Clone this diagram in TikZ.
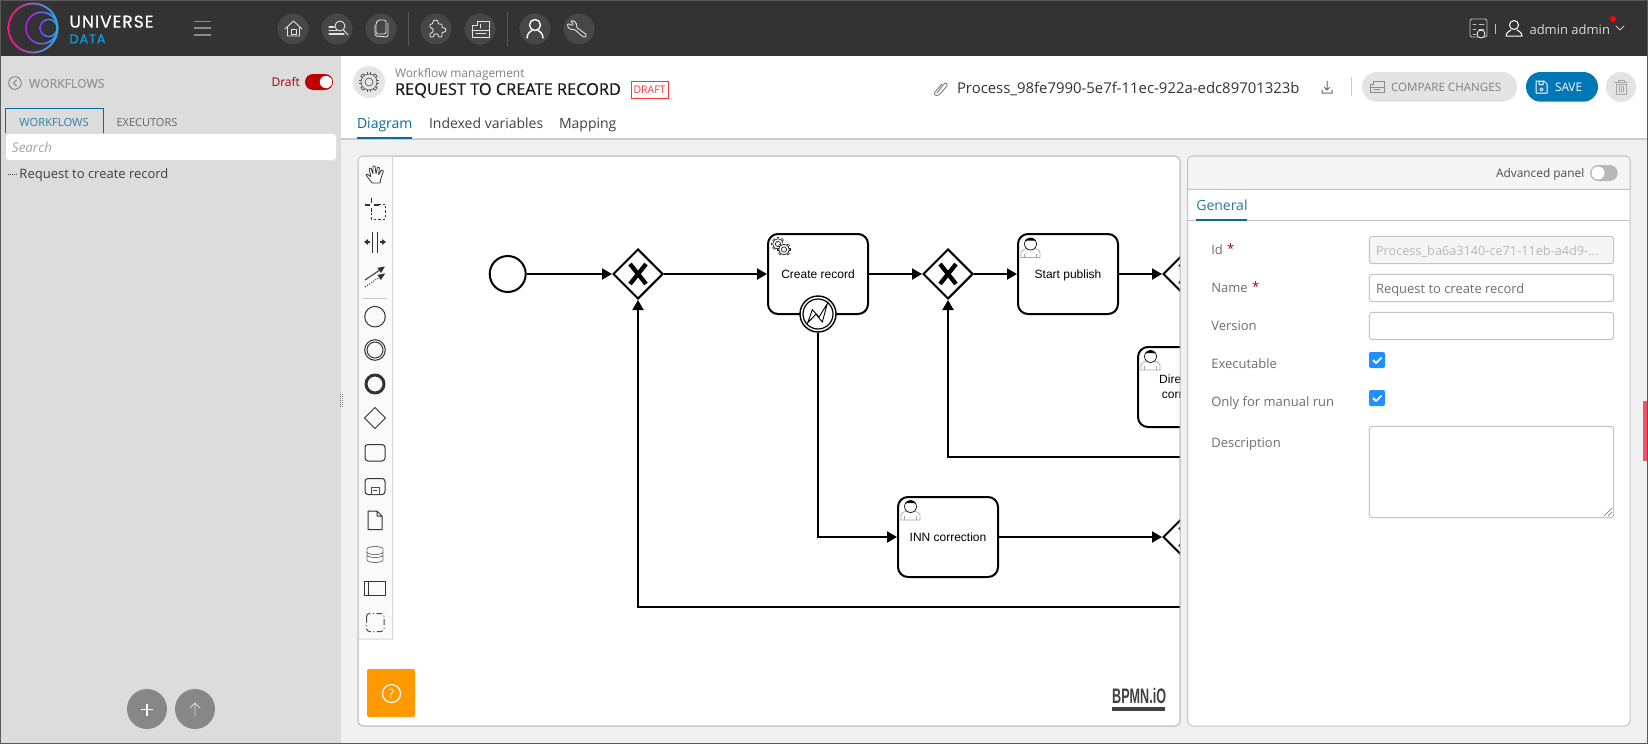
\documentclass[tikz,border=0pt]{standalone}
\usepackage{fontspec}
\usepackage{graphicx}
\setmainfont{Open Sans}
\newfontfamily\arialf{Liberation Sans}
\newfontfamily\logof[LetterSpace=6,FakeBold=0.5]{Poppins}
\newfontfamily\semif[FakeBold=0.35]{Open Sans}
\usetikzlibrary{arrows.meta,shapes.geometric,calc}
\newcommand\fz[1]{\fontsize{#1}{#1}\selectfont}
\definecolor{barbg}{HTML}{333333}
\definecolor{sidebg}{HTML}{DCDCDC}
\definecolor{mainbg}{HTML}{F1F1F1}
\definecolor{rule}{HTML}{C4C4C4}
\definecolor{blueui}{HTML}{0A6A9A}
\definecolor{btnbg}{HTML}{E3E3E3}
\definecolor{txtg}{HTML}{6E6E6E}
\definecolor{databl}{HTML}{0E9CD8}
\definecolor{savebl}{HTML}{0277B6}
\definecolor{checkbl}{HTML}{1E90FF}
\definecolor{orangeh}{HTML}{FF9900}
\definecolor{pinkb}{HTML}{EE5566}
\definecolor{roundb}{HTML}{474747}
\definecolor{icol}{HTML}{E2E2E2}
\colorlet{gearbg}{white}
\tikzset{
  x=1pt,y=-1pt,
  txt/.style 2 args={anchor=mid west,inner sep=0pt,outer sep=0pt,text=#1,font=\fz{#2},yshift={-0.17*#2*1pt}},
  ctxt/.style 2 args={anchor=mid,inner sep=0pt,outer sep=0pt,text=#1,font=\fz{#2},yshift={-0.17*#2*1pt}},
  roundbtn/.style={circle,minimum size=32pt,inner sep=0pt,fill=#1,draw=#1!70!black,line width=.8pt},
  flow/.style={line width=2pt,-{Triangle[length=10pt,width=11pt]}},
  evt/.style={circle,draw=black,fill=white,line width=2pt,minimum size=36pt,inner sep=0pt},
  gate/.style={diamond,aspect=1,draw=black,fill=white,line width=2pt,minimum size=50pt,inner sep=0pt},
  task/.style={draw=black,fill=white,line width=2pt,rounded corners=10pt,minimum width=100pt,minimum height=80pt,inner sep=0pt,font=\arialf\fz{12},text=black,text height=10pt,text depth=2pt},
  ico/.style={draw=#1,line width=.9pt,line join=round,line cap=round},
  pal/.style={draw=#1,line width=1pt,line join=round},
  field/.style={draw=rule,line width=1pt,rounded corners=3pt,fill=#1},
  usertask/.pic={
    \draw[fill=white,draw=gray!70,line width=.7pt] (0,20) -- (0,15) .. controls (0,12.5) and (3,12) .. (5.5,11) -- (13.5,11) .. controls (16,12) and (19,12.5) .. (19,15) -- (19,20) -- cycle;
    \draw[draw=gray!70,line width=.7pt] (3.5,16) -- (3.5,20) (15.5,16) -- (15.5,20);
    \draw[fill=white,draw=black,line width=.7pt] (9.5,6.5) circle (6pt);
    \fill[black] (4.3,3.5) arc[start angle=150,end angle=30,radius=6pt] .. controls (12,2.8) and (7,2.8) .. cycle;
  },
  gearicon/.pic={
    \foreach \a in {0,45,...,315}{\draw[line width={#1*0.5pt}] (\a:{#1*0.9}) -- (\a:{#1*1.3});}
    \foreach \a in {0,45,...,315}{\draw[line width={#1*0.25pt},color=gearbg] (\a:{#1*0.9}) -- (\a:{#1*1.2});}
    \draw[fill=gearbg,line width=.7pt] (0,0) circle ({#1*1pt});
    \draw[line width=.7pt] (0,0) circle ({#1*.5pt});
  },
}
\begin{document}
\begin{tikzpicture}
\useasboundingbox (0,0) rectangle (1648,744);
% backgrounds
\fill[mainbg] (0,0) rectangle (1648,744);
\fill[white] (341,56) rectangle (1648,138);
\fill[rule!85!white] (341,138) rectangle (1648,140);
\fill[sidebg] (0,56) rectangle (341,744);
\fill[barbg] (0,0) rectangle (1648,56);
% logo
\shade[left color={rgb,255:red,240;green,16;blue,125},middle color={rgb,255:red,160;green,32;blue,240},right color={rgb,255:red,32;green,176;blue,240},even odd rule] (33,28) circle (25.5pt) circle (23.5pt);
\shade[left color={rgb,255:red,176;green,24;blue,224},middle color={rgb,255:red,130;green,50;blue,240},right color={rgb,255:red,32;green,176;blue,240},even odd rule] (41.7,28) circle (16.6pt) circle (14.9pt);
\shade[left color={rgb,255:red,120;green,60;blue,240},right color={rgb,255:red,32;green,176;blue,240},even odd rule] (48.7,28) circle (9.4pt) circle (7.8pt);
\node[txt={white}{17}] (logo1) at (69.5,22) {\logof UNIVERSE};
\node[txt={databl}{13}] (logo2) at (69.5,38.5) {\logof DATA};
\draw[gray!90,line width=1.6pt] (194,21.3) -- (211,21.3) (194,28) -- (211,28) (194,34.7) -- (211,34.7);
% top round buttons
\foreach \n/\x in {b1/293,b2/337,b3/381,b4/436,b5/480,b6/535,b7/579}{\node[roundbtn={roundb}] (\n) at (\x,29) {};}
\draw[black!65!white,line width=1pt] (408.5,12) -- (408.5,46) (507.6,12) -- (507.6,46);
% home
\draw[ico=icol] (285,29) -- (293.5,21) -- (302,29) (287.5,27) -- (287.5,36) -- (299.5,36) -- (299.5,27);
\draw[ico=icol,line width=.8pt] (291,29.5) rectangle (296,34);
% search
\draw[ico=icol] (340,26) circle (5pt) (343.5,30) -- (348,35);
\draw[ico=icol,line width=1.2pt] (329,27) -- (334,27) (329,30.5) -- (337,30.5) (329,34) -- (344,34);
% docs
\draw[ico=icol,rounded corners=1.5pt] (378,20) -- (386,20) -- (386,34) -- (376,34) -- (376,23) -- cycle;
\draw[ico=icol,rounded corners=1.5pt] (375,25) -- (375,36) -- (388,37) -- (388,23);
% puzzle
\draw[ico=icol,rounded corners=1pt] (430,24) -- (433,24) .. controls (432,19) and (439,19) .. (438,24) -- (442,24) -- (442,28) .. controls (447,27) and (447,33) .. (442,32) -- (442,37) -- (438,37) .. controls (439,33) and (433,33) .. (434,37) -- (430,37) -- (430,33) .. controls (434,33) and (434,28) .. (430,28) -- cycle;
% layout
\draw[ico=icol] (472,25) -- (477,25) -- (477,21) -- (489,21) -- (489,37) -- (472,37) -- cycle (472,30) -- (489,30);
\draw[ico=icol,line width=.8pt] (480,24) -- (480,28) (476,33) -- (486,33);
% user
\draw[ico=white,line width=1.4pt] (535,25) circle (5.5pt) (527,38) .. controls (527,33) and (531,31) .. (532,30.5) (543,38) .. controls (543,33) and (539,31) .. (538,30.5);
% wrench
\draw[ico=icol,rounded corners=1.5pt] (570,21) .. controls (575,20) and (577,24) .. (576,27) -- (587,35) -- (584.5,38) -- (574,29) .. controls (570,30) and (567,27) .. (568,23) -- (572,26) -- (574,24) -- cycle;
% right top
\draw[ico=white!75!black,rounded corners=1.5pt] (1470,19) rectangle (1487,37);
\draw[ico=white!75!black,line width=.8pt] (1473,24) -- (1476,24) (1473,29) -- (1476,29) (1473,34) -- (1476,34) (1479,24) -- (1484,24) (1479,29) -- (1484,29);
\draw[ico=white,fill=barbg,line width=.8pt] (1481,34) circle (4pt);
\draw[white!75!black,line width=.8pt] (1495,24) -- (1495,34);
\draw[ico=white,line width=1pt] (1514,25) circle (4.5pt) (1506,36) .. controls (1506,32) and (1510,31) .. (1511,30) (1522,36) .. controls (1522,32) and (1518,31) .. (1517,30) (1506,36) -- (1522,36);
\node[txt={white!85!black}{13}] (adm) at (1529.5,30) {admin admin};
\fill[red] (1613,19) circle (3pt);
\draw[ico=white!80!black,line width=.8pt] (1616,26) -- (1620,30) -- (1624,26);
% sidebar
\draw[ico=black!50!white,line width=.9pt] (15,83) circle (6.3pt) (16.5,80) -- (13.5,83) -- (16.5,86);
\node[txt={black!42!white}{12.2}] (wf) at (29,83) {\semif WORKFLOWS};
\node[txt={red!65!black}{12}] (dr) at (271.5,82) {Draft};
\fill[red!75!black,rounded corners=8pt] (305,74) rectangle (333,90);
\fill[white] (326,82) circle (6.2pt);
\draw[blueui,line width=1pt] (5.5,133) -- (5.5,108) -- (103,108) -- (103,133);
\node[ctxt={blueui!85!white}{11.2}] (t1) at (54,122) {WORKFLOWS};
\node[ctxt={black!60!white}{11}] (t2) at (147,122) {EXECUTORS};
\fill[white,rounded corners=3pt] (6,134) rectangle (336,160);
\node[txt={black!35!white}{13.4}] (srch) at (12,147.5) {\itshape Search};
\draw[black!70!white,line width=1pt,dash pattern=on 1pt off 1pt] (8,174.5) -- (17,174.5);
\node[txt={black!75!white}{13}] (rq) at (19.5,174) {Request to create record};
\node[circle,minimum size=40pt,inner sep=0pt,fill=black!47!white] (plus) at (147,709) {};
\node[circle,minimum size=40pt,inner sep=0pt,fill=black!47!white] (up) at (195,709) {};
\draw[white,line width=1.3pt] (141,709.5) -- (153,709.5) (147,703.5) -- (147,715.5);
\draw[white!85!black,line width=.9pt,line join=round] (195,716) -- (195,703) (190,708) -- (195,703) -- (200,708);
\draw[black!50!white,line width=1pt,dash pattern=on 1pt off 1pt] (340.5,394) -- (340.5,407);
\draw[black!50!white,line width=1pt,dash pattern=on 1pt off 1pt] (342.5,394) -- (342.5,407);
% header
\node[circle,minimum size=32pt,inner sep=0pt,fill=black!10!white] (gearb) at (369,82) {};
\begin{scope}\colorlet{gearbg}{black!10!white}
\pic[color=black!65!white] at (369,82) {gearicon=8};
\end{scope}
\node[txt={black!50!white}{11.9}] (wm) at (395,72.5) {Workflow management};
\node[txt={black!90!white}{16.35}] (title) at (395,89.5) {\semif REQUEST TO CREATE RECORD};
\node[draw=red!80!white,line width=.8pt,minimum width=37pt,minimum height=17pt,inner sep=0pt,text=red!80!white,font=\fz{10.5}] (dbx) at (649.5,89.5) {DRAFT};
\node[txt={blueui}{14}] (d1) at (357,123) {Diagram};
\fill[blueui] (357,136.6) rectangle (412,138.6);
\node[txt={black!75!white}{14}] (d2) at (429,123) {Indexed variables};
\node[txt={black!75!white}{14}] (d3) at (559,123) {Mapping};
\draw[ico=black!50!white,line width=.9pt,rounded corners=1.5pt] (937,93) -- (944,84) .. controls (946,82) and (948,85) .. (946,87) -- (940,94) .. controls (936,97) and (933,94) .. (936,91) -- (942,84);
\node[txt={black!80!white}{14.9}] (proc) at (957,88) {Process\_98fe7990-5e7f-11ec-922a-edc89701323b};
\draw[ico=black!60!white,line width=1pt] (1327,81) -- (1327,90) (1324.5,87.5) -- (1327,90) -- (1329.5,87.5) (1322,90) -- (1322,93) -- (1332,93) -- (1332,90);
\draw[black!20!white,line width=1pt] (1351,77) -- (1351,96);
\fill[btnbg,rounded corners=14.8pt] (1362,72) rectangle (1517,101.7);
\draw[ico=black!45!white,line width=.8pt] (1370,84) -- (1373,84) -- (1373,81) -- (1384,81) -- (1384,92) -- (1370,92) -- cycle (1370,87) -- (1384,87) (1374,89.5) -- (1380,89.5);
\node[txt={black!50!white}{11.6}] (cmp) at (1391,86.5) {COMPARE CHANGES};
\fill[savebl,rounded corners=14.8pt] (1526,72) rectangle (1598,101.7);
\draw[ico=white,line width=1pt] (1536,81) -- (1544,81) -- (1547,84) -- (1547,93) -- (1536,93) -- cycle (1539,81) -- (1539,84.5) -- (1543,84.5) -- (1543,81);
\draw[ico=white,line width=.8pt] (1541.5,89.5) circle (1.6pt);
\node[txt={white}{11.8}] (sv) at (1555,86.5) {SAVE};
\node[circle,minimum size=30pt,inner sep=0pt,fill=btnbg] (trash) at (1621,87) {};
\draw[ico=black!35!white,line width=1pt] (1614.5,82) -- (1627.5,82) (1618,82) -- (1618,80) -- (1624,80) -- (1624,82) (1616,84) rectangle (1626,94) (1619,86) -- (1619,92) (1621,86) -- (1621,92) (1623,86) -- (1623,92);
% canvas
\draw[fill=white,draw=rule,line width=1pt,rounded corners=5pt] (358,156) rectangle (1180,726);
% diagram
\begin{scope}
\clip (359,157) rectangle (1180,725);
\node[evt] (start) at (507.7,274) {};
\node[gate] (gw1) at (638,274) {};
\node[task] (create) at (818,274) {Create record};
\node[gate] (gw2) at (948,274) {};
\node[task] (publish) at (1068,274) {Start publish};
\node[gate] (gw3) at (1188,274) {};
\node[task] (direct) at (1188,387) {};
\node[task] (inn) at (948,537) {INN correction};
\node[gate] (gw4) at (1188,537) {};
\node[evt,line width=1.4pt] (bnd) at (818,314) {};
\draw[line width=1.2pt] (818,314) circle (15pt);
\draw[line width=.9pt,line join=miter] ($(bnd)+(-10.3,8.7)$) -- ++(4.6,-13) -- ++(6.7,7.3) -- ++(8.3,-13.3) -- ++(-5,18.3) -- ++(-6.3,-7.7) -- cycle;
\foreach \g in {gw1,gw2,gw3,gw4}{
  \draw[line width=4.3pt] ($(\g)+(-8,-10)$) -- ($(\g)+(8,10)$) ($(\g)+(8,-10)$) -- ($(\g)+(-8,10)$);
}
\pic at (1021,237.5) {usertask};
\pic at (1141,350) {usertask};
\pic at (901,500) {usertask};
\pic[color=black!85!white] at (778,244) {gearicon=5.3};
\pic[color=black!85!white] at (784,249.5) {gearicon=5.3};
\node[anchor=mid west,inner sep=0pt,font=\arialf\fz{12},yshift=-2pt] (dl1) at (1159,379) {Dire};
\node[anchor=mid west,inner sep=0pt,font=\arialf\fz{12},yshift=-2pt] (dl2) at (1161.7,393.7) {corr};
\coordinate (c1) at (1200,457);
\coordinate (c2) at (1200,607);
\draw[flow] (start) -- (gw1);
\draw[flow] (gw1) -- (create);
\draw[flow] (create) -- (gw2);
\draw[flow] (gw2) -- (publish);
\draw[flow] (publish) -- (gw3);
\draw[flow] (inn) -- (gw4);
\draw[flow] (bnd.south) |- (inn.west);
\draw[flow] (c1) -| (gw2.south);
\draw[flow] (c2) -| (gw1.south);
\end{scope}
\draw[draw=rule,line width=1pt,rounded corners=5pt] (358,156) rectangle (1180,726);
% palette
\draw[fill=black!2!white,draw=rule!70!white,line width=1pt] (358.5,160) -- (358.5,639) -- (392.7,639) -- (392.7,156.5) -- (362,156.5) .. controls (360,156.5) and (358.5,158) .. (358.5,160);
\draw[pal=black!80!white,fill=white,line width=.8pt,rounded corners=.6pt] (372,183) -- (366,175) -- (367.5,174) -- (371,177) -- (369,168.5) -- (371,168) -- (373,174) -- (373,166) -- (375,166) -- (376,174) -- (377.5,167) -- (379.5,167.5) -- (378.5,175) -- (381.5,170) -- (383.5,171) -- (381,178) -- (380,183) -- cycle;
\draw[pal=black!80!white,line width=1.3pt] (364.5,205) -- (369.5,205) (374,205) -- (379,205) (371.7,198) -- (371.7,202.5) (371.7,207.5) -- (371.7,211.5);
\draw[pal=black!80!white,dash pattern=on 2.5pt off 2pt] (378,204.5) -- (385.7,204.5) -- (385.7,219) -- (371.3,219) -- (371.3,212);
\draw[pal=black!80!white] (372.5,232) -- (372.5,253) (377.5,232) -- (377.5,253);
\draw[pal=black!80!white,line width=1.4pt,-{Triangle[length=4pt,width=5.5pt]}] (370,242) -- (364,242);
\draw[pal=black!80!white,line width=1.4pt,-{Triangle[length=4pt,width=5.5pt]}] (380,242) -- (386,242);
\draw[pal=black!80!white,-{Triangle[length=7pt,width=6pt]}] (365,280) -- (385,266.5);
\draw[pal=black!80!white,dash pattern=on 1pt off 1.5pt,-{Triangle[length=7pt,width=6pt,fill=black!80!white,line width=.1pt]}] (365,287) -- (385,273.5);
\draw[rule,line width=1pt] (363,298) -- (387,298);
\draw[pal=black!80!white] (375,316.7) circle (10.3pt);
\draw[pal=black!80!white] (375,350) circle (10.3pt) (375,350) circle (8pt);
\draw[pal=black!80!white,line width=3pt] (375,384) circle (9pt);
\draw[pal=black!80!white] (375,407.5) -- (385.5,418) -- (375,428.5) -- (364.5,418) -- cycle;
\draw[pal=black!80!white,rounded corners=3pt] (365,444.5) rectangle (385,461);
\draw[pal=black!80!white,rounded corners=3pt] (365,478.5) rectangle (385,494.5);
\draw[pal=black!70!white,line width=.8pt] (371,487) rectangle (379,494.5) (373,490.5) -- (377,490.5);
\draw[pal=black!80!white] (368,511) -- (377,511) -- (382,516) -- (382,529.5) -- (368,529.5) -- cycle (377,511) -- (377,516) -- (382,516);
\draw[pal=black!55!white,line width=.8pt] (367,549) arc[start angle=180,end angle=0,x radius=8pt,y radius=2.5pt] -- (383,560) arc[start angle=0,end angle=-180,x radius=8pt,y radius=2.5pt] -- cycle (367,552) arc[start angle=180,end angle=360,x radius=8pt,y radius=2.5pt] (367,555) arc[start angle=180,end angle=360,x radius=8pt,y radius=2.5pt];
\draw[pal=black!80!white] (364.5,581.5) rectangle (385.5,595) (368.5,581.5) -- (368.5,595);
\draw[pal=black!70!white,rounded corners=3pt,dash pattern=on 6pt off 2.5pt on 1pt off 2.5pt] (366.5,613.5) rectangle (384,631.5);
% help
\fill[orangeh,rounded corners=2pt] (367,669) rectangle (415,717);
\draw[white,line width=1.2pt] (391.5,693.5) circle (9pt);
\node[ctxt={white}{13}] (q) at (391.5,694) {?};
% bpmn.io
\node[anchor=mid west,inner sep=0pt,text=black!75!white,font=\arialf\bfseries\fz{21},yshift=-3pt] (bio) at (1112,697.5) {\scalebox{.6}[1]{BPMN.iO}};
\fill[black!75!white] (1112,707) rectangle (1165,711);
% right panel
\draw[fill=white,draw=rule,line width=1pt,rounded corners=5pt] (1187.7,156) rectangle (1630,726);
\draw[fill=black!4!white,draw=rule,line width=1pt,rounded corners=0pt] (1187.7,189.3) -- (1187.7,160) .. controls (1187.7,157.5) and (1190,156) .. (1192,156) -- (1625,156) .. controls (1628,156) and (1630,157.5) .. (1630,160) -- (1630,189.3) -- cycle;
\node[txt={black!70!white}{11.9}] (adv) at (1496,173) {Advanced panel};
\fill[black!28!white,rounded corners=8pt] (1590,165) rectangle (1617.7,181);
\fill[white] (1598,173) circle (6.5pt);
\node[txt={blueui!90!white}{14}] (gen) at (1196.3,205) {General};
\draw[rule,line width=1pt] (1188,220.5) -- (1630,220.5);
\fill[blueui] (1196.3,219) rectangle (1247,221);
\node[txt={txtg}{13}] (l1) at (1211.3,249.3) {Id};
\node[txt={red!70!black}{13}] (s1) at (1227,249) {*};
\node[txt={txtg}{13}] (l2) at (1211.3,287.3) {Name};
\node[txt={red!70!black}{13}] (s2) at (1252,287) {*};
\node[txt={txtg}{13}] (l3) at (1211.3,325.3) {Version};
\node[txt={txtg}{13}] (l4) at (1211.3,363.3) {Executable};
\node[txt={txtg}{13}] (l5) at (1211.3,401.3) {Only for manual run};
\node[txt={txtg}{13}] (l6) at (1211.3,442.7) {Description};
\draw[field=black!4!white] (1369.3,236.3) rectangle (1613.7,263.7);
\draw[field=white] (1369.3,274.3) rectangle (1613.7,301.7);
\draw[field=white] (1369.3,312.3) rectangle (1613.7,339.7);
\draw[field=white] (1369.3,426.3) rectangle (1613.7,517.7);
\node[txt={black!28!white}{12.7}] (v1) at (1376,250.3) {Process\_ba6a3140-ce71-11eb-a4d9-...};
\node[txt={txtg}{12.95}] (v2) at (1376,288.3) {Request to create record};
\foreach \y in {352,390}{
  \fill[checkbl,rounded corners=2pt] (1369,\y) rectangle (1385,\y+16);
  \draw[white,line width=1.8pt,line join=round] (1373,\y+8) -- (1376,\y+11) -- (1381.5,\y+5.5);
}
\draw[black!60!white,line width=.6pt] (1604,516) -- (1612,508) (1608,516) -- (1612,512);
\fill[pinkb] (1643.3,401) rectangle (1648,461);
% frame
\draw[black!65!white,line width=1pt] (.5,.5) rectangle (1647.5,743.5);
\end{tikzpicture}
\end{document}
